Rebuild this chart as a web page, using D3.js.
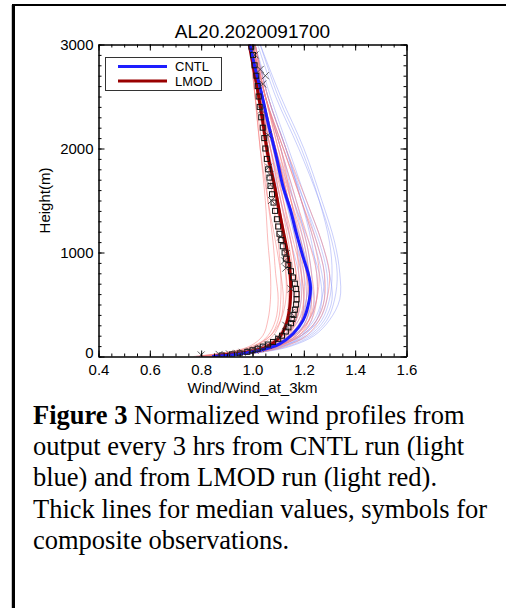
<!DOCTYPE html>
<html><head><meta charset="utf-8">
<script src="https://cdn.jsdelivr.net/npm/d3@7"></script>
<style>body{margin:0;background:#fff}svg{display:block}</style>
</head><body>
<script>
// ---- data ----
const title = "AL20.2020091700";
const xLabel = "Wind/Wind_at_3km";
const yLabel = "Height(m)";
const xTicks = [0.4, 0.6, 0.8, 1.0, 1.2, 1.4, 1.6];
const yTicks = [0, 1000, 2000, 3000];
const legendNames = ["CNTL", "LMOD"];

// heights (m) at which thin member profiles are sampled
const profileHeights = [0, 50, 100, 200, 350, 550, 800, 1100, 1500, 2000, 2500, 3000];
// CNTL members (light blue)
const cntlMembers = [
  [0.80, 0.98, 1.06, 1.14, 1.19, 1.21, 1.20, 1.17, 1.13, 1.08, 1.04, 1.00],
  [0.84, 1.02, 1.10, 1.19, 1.25, 1.28, 1.27, 1.24, 1.19, 1.13, 1.06, 1.01],
  [0.78, 0.95, 1.03, 1.12, 1.18, 1.21, 1.22, 1.20, 1.16, 1.11, 1.05, 1.00],
  [0.86, 1.05, 1.14, 1.23, 1.29, 1.32, 1.33, 1.31, 1.26, 1.18, 1.09, 1.02],
  [0.82, 0.99, 1.07, 1.15, 1.20, 1.22, 1.21, 1.18, 1.13, 1.07, 1.03, 0.99],
  [0.88, 1.04, 1.12, 1.20, 1.25, 1.27, 1.26, 1.22, 1.16, 1.09, 1.04, 1.00],
  [0.80, 0.97, 1.05, 1.13, 1.17, 1.19, 1.18, 1.15, 1.11, 1.06, 1.02, 0.99],
  [0.85, 1.03, 1.12, 1.22, 1.28, 1.31, 1.30, 1.27, 1.21, 1.14, 1.07, 1.01],
  [0.83, 1.00, 1.08, 1.16, 1.22, 1.25, 1.25, 1.23, 1.19, 1.13, 1.06, 1.01],
  [0.90, 1.05, 1.12, 1.19, 1.23, 1.24, 1.22, 1.19, 1.14, 1.08, 1.03, 0.99],
  [0.79, 0.96, 1.04, 1.11, 1.15, 1.16, 1.15, 1.13, 1.10, 1.06, 1.02, 0.99],
  [0.84, 1.02, 1.11, 1.21, 1.27, 1.30, 1.31, 1.30, 1.26, 1.19, 1.10, 1.03],
  [0.87, 1.03, 1.10, 1.17, 1.21, 1.23, 1.23, 1.21, 1.17, 1.11, 1.05, 1.00],
  [0.81, 0.99, 1.08, 1.18, 1.24, 1.27, 1.28, 1.25, 1.20, 1.13, 1.06, 1.01],
  [0.86, 1.01, 1.08, 1.15, 1.19, 1.20, 1.19, 1.17, 1.13, 1.08, 1.03, 1.00],
  [0.82, 1.00, 1.09, 1.19, 1.26, 1.29, 1.29, 1.26, 1.20, 1.12, 1.05, 1.00],
  [0.88, 1.06, 1.15, 1.24, 1.30, 1.34, 1.34, 1.32, 1.27, 1.20, 1.11, 1.03],
  [0.80, 0.98, 1.07, 1.16, 1.21, 1.23, 1.22, 1.19, 1.14, 1.09, 1.04, 1.00]
];
// LMOD members (light red)
const lmodMembers = [
  [0.80, 0.95, 1.02, 1.08, 1.11, 1.12, 1.11, 1.09, 1.06, 1.03, 1.01, 0.99],
  [0.84, 0.99, 1.06, 1.13, 1.17, 1.18, 1.17, 1.15, 1.11, 1.07, 1.03, 1.00],
  [0.78, 0.92, 0.99, 1.04, 1.06, 1.07, 1.07, 1.06, 1.05, 1.03, 1.01, 0.99],
  [0.86, 1.02, 1.10, 1.18, 1.23, 1.25, 1.25, 1.22, 1.17, 1.11, 1.05, 1.01],
  [0.82, 0.97, 1.04, 1.10, 1.14, 1.15, 1.14, 1.12, 1.09, 1.05, 1.02, 0.99],
  [0.88, 1.03, 1.10, 1.17, 1.21, 1.22, 1.21, 1.18, 1.14, 1.09, 1.04, 1.00],
  [0.80, 0.94, 1.01, 1.07, 1.10, 1.11, 1.11, 1.10, 1.08, 1.05, 1.02, 0.99],
  [0.85, 1.01, 1.09, 1.17, 1.22, 1.24, 1.23, 1.21, 1.16, 1.10, 1.05, 1.00],
  [0.83, 0.98, 1.05, 1.12, 1.16, 1.18, 1.18, 1.17, 1.14, 1.09, 1.04, 1.00],
  [0.90, 1.04, 1.10, 1.16, 1.19, 1.20, 1.19, 1.16, 1.12, 1.07, 1.03, 0.99],
  [0.79, 0.94, 1.01, 1.06, 1.09, 1.10, 1.09, 1.08, 1.06, 1.04, 1.01, 0.99],
  [0.84, 1.01, 1.10, 1.19, 1.25, 1.28, 1.28, 1.25, 1.19, 1.12, 1.05, 1.01],
  [0.87, 1.02, 1.08, 1.14, 1.17, 1.18, 1.17, 1.15, 1.12, 1.08, 1.03, 1.00],
  [0.81, 0.97, 1.05, 1.13, 1.18, 1.20, 1.20, 1.18, 1.14, 1.09, 1.04, 1.00],
  [0.86, 1.00, 1.06, 1.11, 1.14, 1.15, 1.14, 1.13, 1.10, 1.06, 1.02, 0.99],
  [0.82, 0.99, 1.07, 1.16, 1.22, 1.25, 1.26, 1.24, 1.19, 1.12, 1.05, 1.00],
  [0.88, 1.05, 1.13, 1.21, 1.26, 1.29, 1.30, 1.27, 1.21, 1.13, 1.06, 1.01],
  [0.80, 0.96, 1.04, 1.11, 1.15, 1.16, 1.15, 1.13, 1.10, 1.06, 1.03, 1.00],
  [0.83, 0.99, 1.06, 1.13, 1.16, 1.17, 1.16, 1.14, 1.11, 1.07, 1.03, 1.00],
  [0.85, 1.00, 1.07, 1.14, 1.19, 1.21, 1.21, 1.19, 1.15, 1.10, 1.05, 1.00],
  [0.77, 0.93, 1.00, 1.07, 1.11, 1.13, 1.13, 1.12, 1.10, 1.06, 1.02, 0.99],
  [0.89, 1.04, 1.11, 1.18, 1.22, 1.23, 1.22, 1.20, 1.15, 1.09, 1.04, 1.00],
  [0.81, 0.97, 1.04, 1.12, 1.17, 1.19, 1.19, 1.18, 1.15, 1.11, 1.05, 1.01],
  [0.84, 0.98, 1.05, 1.10, 1.13, 1.14, 1.13, 1.12, 1.09, 1.06, 1.02, 0.99]
];

// medians
const cntlMedianH = [0, 20, 58, 122, 219, 347, 540, 669, 797, 958, 1183, 1408, 1633, 1922, 2243, 2532, 2788, 3000];
const cntlMedianX = [0.843, 0.938, 1.028, 1.106, 1.158, 1.197, 1.221, 1.226, 1.217, 1.197, 1.171, 1.148, 1.119, 1.093, 1.061, 1.035, 1.009, 0.99];
const lmodMedianH = [0, 10, 42, 90, 187, 316, 477, 669, 862, 1022, 1215, 1376, 1633, 1922, 2243, 2532, 2788, 3000];
const lmodMedianX = [0.845, 0.873, 0.977, 1.054, 1.106, 1.132, 1.145, 1.149, 1.145, 1.135, 1.119, 1.106, 1.087, 1.061, 1.041, 1.022, 1.003, 0.987];

// composite observations: squares
const obsSquareH = [10, 20, 30, 45, 60, 75, 95, 115, 140, 170, 200, 240, 280, 320, 360, 400, 450, 500, 550, 600, 650, 700, 760, 820, 880, 940, 1000, 1060, 1120, 1180, 1250, 1320, 1400, 1480, 1560, 1640, 1720, 1800, 1900, 2000, 2100, 2200, 2300, 2400, 2500, 2600, 2700, 2800, 2900, 2980];
const obsSquareX = [0.88, 0.92, 0.95, 0.98, 1.00, 1.02, 1.04, 1.06, 1.08, 1.10, 1.115, 1.13, 1.14, 1.15, 1.155, 1.16, 1.165, 1.17, 1.172, 1.172, 1.17, 1.165, 1.158, 1.15, 1.14, 1.13, 1.125, 1.118, 1.112, 1.105, 1.10, 1.095, 1.088, 1.082, 1.076, 1.07, 1.066, 1.061, 1.056, 1.05, 1.046, 1.04, 1.034, 1.028, 1.024, 1.02, 1.015, 1.008, 1.002, 0.996];
// composite observations: crosses
const obsCrossH = [15, 20, 25, 30, 40, 50, 60, 80, 110, 180, 300, 420, 650, 850, 920, 990, 1150, 1500, 1650, 1750, 1820, 2130, 2370, 2620, 2700, 2760, 2900];
const obsCrossX = [0.80, 0.87, 0.91, 0.94, 0.96, 0.99, 1.01, 1.03, 1.06, 1.10, 1.13, 1.15, 1.15, 1.13, 1.125, 1.132, 1.11, 1.074, 1.07, 1.068, 1.063, 1.06, 1.035, 1.04, 1.05, 1.03, 1.01];

const captionLines = [
  ["Figure 3", " Normalized wind profiles from"],
  ["", "output every 3 hrs from CNTL run (light"],
  ["", "blue) and from LMOD run (light red)."],
  ["", "Thick lines for median values, symbols for"],
  ["", "composite observations."]
];

// ---- drawing ----
const W = 506, H = 608;
const svg = d3.select("body").append("svg").attr("width", W).attr("height", H);
svg.append("rect").attr("width", W).attr("height", H).attr("fill", "#fff");

// outer frame (top and left)
svg.append("line").attr("x1", 11.5).attr("x2", 11.5).attr("y1", 5).attr("y2", H).attr("stroke", "#c8c8c8").attr("stroke-width", 1);
svg.append("line").attr("x1", 13.5).attr("x2", 13.5).attr("y1", 4).attr("y2", H).attr("stroke", "#000").attr("stroke-width", 3);
svg.append("line").attr("x1", 12).attr("x2", W).attr("y1", 5).attr("y2", 5).attr("stroke", "#000").attr("stroke-width", 2);

const x = d3.scaleLinear().domain([0.4, 1.6]).range([98.5, 406.5]);
const y = d3.scaleLinear().domain([0, 3000]).range([356.5, 44.5]);

svg.append("clipPath").attr("id", "clip").append("rect")
  .attr("x", x(0.4)).attr("y", y(3000)).attr("width", x(1.6) - x(0.4)).attr("height", y(0) - y(3000));

const plot = svg.append("g").attr("clip-path", "url(#clip)");
const line = d3.line().x(d => x(d[0])).y(d => y(d[1])).curve(d3.curveCatmullRom);

cntlMembers.forEach(m => {
  plot.append("path").datum(m.map((v, i) => [v, profileHeights[i]]))
    .attr("d", line).attr("fill", "none").attr("stroke", "rgb(150,160,250)").attr("stroke-opacity", 0.5).attr("stroke-width", 1);
});
lmodMembers.forEach(m => {
  plot.append("path").datum(m.map((v, i) => [v, profileHeights[i]]))
    .attr("d", line).attr("fill", "none").attr("stroke", "rgb(248,130,130)").attr("stroke-opacity", 0.55).attr("stroke-width", 1);
});

plot.append("path").datum(lmodMedianX.map((v, i) => [v, lmodMedianH[i]]))
  .attr("d", line).attr("fill", "none").attr("stroke", "#990000").attr("stroke-width", 3);
plot.append("path").datum(cntlMedianX.map((v, i) => [v, cntlMedianH[i]]))
  .attr("d", line).attr("fill", "none").attr("stroke", "#1e1eff").attr("stroke-width", 3);

// squares
plot.selectAll(".sq").data(obsSquareX.map((v, i) => [v, obsSquareH[i]])).enter().append("rect")
  .attr("x", d => x(d[0]) - 2.5).attr("y", d => y(d[1]) - 2.5).attr("width", 5).attr("height", 5)
  .attr("fill", "none").attr("stroke", "#111").attr("stroke-width", 1);
// crosses
plot.selectAll(".cr").data(obsCrossX.map((v, i) => [v, obsCrossH[i]])).enter().append("path")
  .attr("d", d => { const cx = x(d[0]), cy = y(d[1]), s = 3.5; return `M${cx - s},${cy - s}L${cx + s},${cy + s}M${cx - s},${cy + s}L${cx + s},${cy - s}`; })
  .attr("fill", "none").attr("stroke", "#333").attr("stroke-width", 0.8);

// axes
function styleAxis(g) {
  g.select(".domain").attr("stroke", "#000").attr("stroke-width", 1);
  g.selectAll(".tick line").attr("stroke", "#000");
  g.selectAll("text").attr("font-family", "Liberation Sans, Arial, sans-serif").attr("font-size", 15).attr("fill", "#000");
}
const fmtX = d3.format(".1f");
// major
svg.append("g").attr("transform", `translate(0,${y(0)})`)
  .call(d3.axisBottom(x).tickValues(xTicks).tickSize(-6).tickSizeOuter(0).tickPadding(8).tickFormat(fmtX)).call(styleAxis);
svg.append("g").attr("transform", `translate(0,${y(3000)})`)
  .call(d3.axisTop(x).tickValues(xTicks).tickSize(-6).tickSizeOuter(0).tickFormat("")).call(styleAxis);
const yAxisG = svg.append("g").attr("transform", `translate(${x(0.4)},0)`)
  .call(d3.axisLeft(y).tickValues(yTicks).tickSize(-6).tickSizeOuter(0).tickPadding(5).tickFormat(d3.format("d"))).call(styleAxis);
// the lowest label sits slightly above its tick, as in the original
yAxisG.selectAll(".tick text").filter(d => d === 0).attr("dy", "0.05em");
svg.append("g").attr("transform", `translate(${x(1.6)},0)`)
  .call(d3.axisRight(y).tickValues(yTicks).tickSize(-6).tickSizeOuter(0).tickFormat("")).call(styleAxis);
// minor
const xMinor = d3.range(0, 25).map(i => 0.4 + i * 0.05);
const yMinor = d3.range(0, 31).map(i => i * 100);
svg.append("g").attr("transform", `translate(0,${y(0)})`)
  .call(d3.axisBottom(x).tickValues(xMinor).tickSize(-3).tickSizeOuter(0).tickFormat("")).call(styleAxis);
svg.append("g").attr("transform", `translate(0,${y(3000)})`)
  .call(d3.axisTop(x).tickValues(xMinor).tickSize(-3).tickSizeOuter(0).tickFormat("")).call(styleAxis);
svg.append("g").attr("transform", `translate(${x(0.4)},0)`)
  .call(d3.axisLeft(y).tickValues(yMinor).tickSize(-3).tickSizeOuter(0).tickFormat("")).call(styleAxis);
svg.append("g").attr("transform", `translate(${x(1.6)},0)`)
  .call(d3.axisRight(y).tickValues(yMinor).tickSize(-3).tickSizeOuter(0).tickFormat("")).call(styleAxis);

// title and labels
svg.append("text").attr("x", (x(0.4) + x(1.6)) / 2).attr("y", 38).attr("text-anchor", "middle")
  .attr("font-family", "Liberation Sans, Arial, sans-serif").attr("font-size", 19).text(title);
svg.append("text").attr("x", (x(0.4) + x(1.6)) / 2).attr("y", 393).attr("text-anchor", "middle")
  .attr("font-family", "Liberation Sans, Arial, sans-serif").attr("font-size", 15).text(xLabel);
svg.append("text").attr("transform", `translate(50,${(y(0) + y(3000)) / 2}) rotate(-90)`).attr("text-anchor", "middle")
  .attr("font-family", "Liberation Sans, Arial, sans-serif").attr("font-size", 15).text(yLabel);

// legend
const lg = svg.append("g");
lg.append("rect").attr("x", 105.5).attr("y", 57.5).attr("width", 116).attr("height", 33)
  .attr("fill", "#fff").attr("stroke", "#333").attr("stroke-width", 1);
const legendColors = ["#1e1eff", "#990000"];
legendNames.forEach((n, i) => {
  const ly = 66.5 + i * 14.6;
  lg.append("line").attr("x1", 118).attr("x2", 167).attr("y1", ly).attr("y2", ly)
    .attr("stroke", legendColors[i]).attr("stroke-width", 3);
  lg.append("text").attr("x", 175).attr("y", ly + 4.5)
    .attr("font-family", "Liberation Sans, Arial, sans-serif").attr("font-size", 13).text(n);
});

// caption
captionLines.forEach((l, i) => {
  const t = svg.append("text").attr("x", 33).attr("y", 424 + i * 31.2)
    .attr("font-family", "Liberation Serif, Times New Roman, serif").attr("font-size", 26.5).attr("fill", "#000");
  if (l[0]) t.append("tspan").attr("font-weight", "bold").text(l[0]);
  t.append("tspan").text(l[1]);
});
</script>
</body></html>
